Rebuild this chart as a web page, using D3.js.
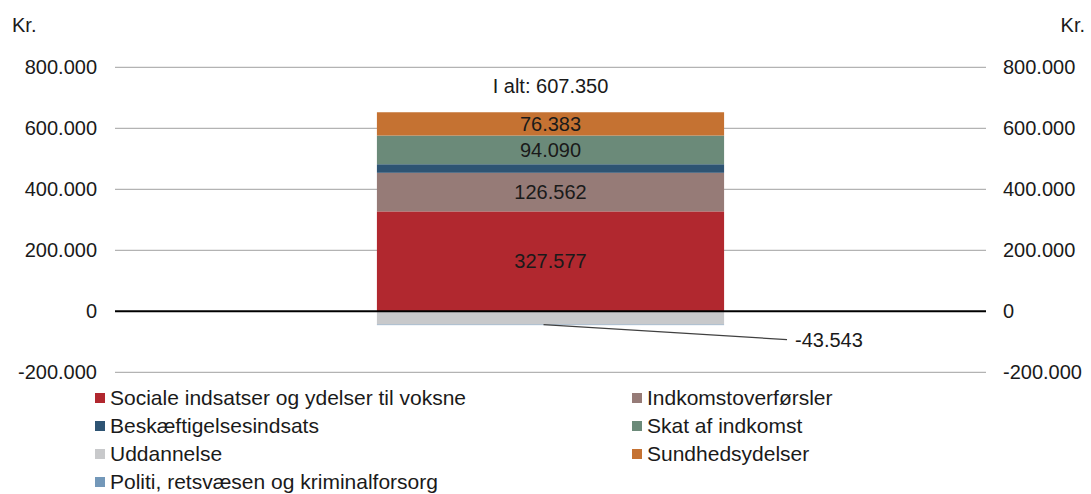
<!DOCTYPE html>
<html>
<head>
<meta charset="utf-8">
<script src="https://cdn.jsdelivr.net/npm/d3@7"></script>
<style>
  body { margin: 0; background: #fff; }
  svg text { font-family: "Liberation Sans", Arial, sans-serif; fill: #1a1a1a; }
</style>
</head>
<body>
<svg id="chart"></svg>
<script>
// data
var categories = ["I alt"];
var seriesNames = [
  "Sociale indsatser og ydelser til voksne",
  "Indkomstoverførsler",
  "Beskæftigelsesindsats",
  "Skat af indkomst",
  "Uddannelse",
  "Sundhedsydelser",
  "Politi, retsvæsen og kriminalforsorg"
];
var seriesValues = [327577, 126562, 28000, 94090, -43543, 76383, -1719];
var seriesColors = ["#b1282f", "#967b77", "#2e5473", "#6b8a79", "#c8c9cb", "#c57232", "#7398b9"];
var labelled = [true, true, false, true, true, true, false];
var totalValue = 607350;
var tickValues = [-200000, 0, 200000, 400000, 600000, 800000];

var width = 1091, height = 494;

var svg = d3.select("#chart").attr("width", width).attr("height", height);

var fmt = function(v) {
  var s = d3.format(",")(Math.abs(v)).replace(/,/g, ".");
  return (v < 0 ? "-" : "") + s;
};

var y = d3.scaleLinear().domain([-200000, 800000]).range([372.3, 67.3]);
var x = d3.scaleBand().domain(categories).range([115, 986]).padding(0.43);

// gridlines
svg.append("g")
  .selectAll("line")
  .data(tickValues.filter(function(d) { return d !== 0; }))
  .enter().append("line")
  .attr("x1", 115).attr("x2", 986)
  .attr("y1", function(d) { return y(d); })
  .attr("y2", function(d) { return y(d); })
  .attr("stroke", "#b3b3b3")
  .attr("stroke-width", 1.2);

// left & right axes (text only)
var leftAxis = svg.append("g").attr("transform", "translate(115,0)")
  .call(d3.axisLeft(y).tickValues(tickValues).tickFormat(fmt).tickSize(0).tickPadding(18));
var rightAxis = svg.append("g").attr("transform", "translate(986,0)")
  .call(d3.axisRight(y).tickValues(tickValues).tickFormat(fmt).tickSize(0).tickPadding(17));
[leftAxis, rightAxis].forEach(function(a) {
  a.select(".domain").remove();
  a.selectAll("text").style("font-size", "20px").attr("fill", "#1a1a1a");
});

svg.append("text").attr("x", 12).attr("y", 32).style("font-size", "20px").text("Kr.");
svg.append("text").attr("x", 1085).attr("y", 32).attr("text-anchor", "end").style("font-size", "20px").text("Kr.");

// stacked bar
var row = { cat: categories[0] };
seriesNames.forEach(function(n, i) { row[n] = seriesValues[i]; });
var stack = d3.stack().keys(seriesNames).offset(d3.stackOffsetDiverging);
var layers = stack([row]);

svg.append("g")
  .selectAll("rect")
  .data(layers)
  .enter().append("rect")
  .attr("x", x(categories[0]))
  .attr("width", x.bandwidth())
  .attr("y", function(d) { return y(Math.max(d[0][0], d[0][1])); })
  .attr("height", function(d) { return Math.abs(y(d[0][0]) - y(d[0][1])); })
  .attr("fill", function(d, i) { return seriesColors[i]; });

// zero line
svg.append("line")
  .attr("x1", 115).attr("x2", 986)
  .attr("y1", y(0)).attr("y2", y(0))
  .attr("stroke", "#000").attr("stroke-width", 2);

// segment labels
var cx = x(categories[0]) + x.bandwidth() / 2;
layers.forEach(function(d, i) {
  if (!labelled[i] || seriesValues[i] < 0) return;
  svg.append("text")
    .attr("x", cx)
    .attr("y", y((d[0][0] + d[0][1]) / 2))
    .attr("dy", "0.35em")
    .attr("text-anchor", "middle")
    .style("font-size", "20px")
    .text(fmt(seriesValues[i]));
});

// negative label with leader line
var uIdx = seriesNames.indexOf("Uddannelse");
var uBottom = y(layers[uIdx][0][0]);
svg.append("line")
  .attr("x1", cx - 7).attr("y1", uBottom)
  .attr("x2", 787).attr("y2", uBottom + 15)
  .attr("stroke", "#404040").attr("stroke-width", 1.2);
svg.append("text")
  .attr("x", 795).attr("y", uBottom + 15)
  .attr("dy", "0.35em")
  .style("font-size", "20px")
  .text(fmt(seriesValues[uIdx]));

// total label
svg.append("text")
  .attr("x", cx).attr("y", 86).attr("dy", "0.35em")
  .attr("text-anchor", "middle")
  .style("font-size", "20px")
  .text("I alt: " + fmt(totalValue));

// legend
var legend = svg.append("g").selectAll("g")
  .data(seriesNames)
  .enter().append("g")
  .attr("transform", function(d, i) {
    return "translate(" + (i % 2 === 0 ? 95 : 632) + "," + (398 + Math.floor(i / 2) * 28) + ")";
  });
legend.append("rect")
  .attr("x", 0).attr("y", -5).attr("width", 10).attr("height", 10)
  .attr("fill", function(d, i) { return seriesColors[i]; });
legend.append("text")
  .attr("x", 15).attr("y", 0).attr("dy", "0.35em")
  .style("font-size", "21px")
  .text(function(d) { return d; });
</script>
</body>
</html>
